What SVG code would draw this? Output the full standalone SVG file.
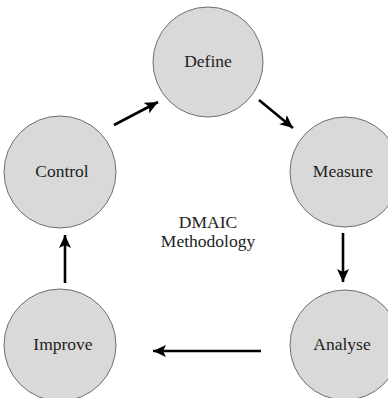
<svg xmlns="http://www.w3.org/2000/svg" width="388" height="398" viewBox="0 0 388 398">
  <style>
    .node circle { fill: #d9d9d9; stroke: #6e6e6e; stroke-width: 1; }
    text { font-family: "Liberation Serif", "Times New Roman", "DejaVu Serif", serif; font-size: 17.5px; fill: #222; text-anchor: middle; }
    .conn line { stroke: #000; stroke-width: 2.6; }
  </style>
  <defs>
    <marker id="arrow" markerUnits="userSpaceOnUse" markerWidth="14" markerHeight="12" refX="13" refY="6" orient="auto">
      <path d="M0,0 L13,6 L0,12 L3,6 Z" fill="#000"/>
    </marker>
  </defs>
  <rect width="388" height="398" fill="#fff"/>

  <g id="define" class="node">
    <circle cx="208" cy="62" r="55"/>
    <text x="208" y="67">Define</text>
  </g>
  <g id="measure" class="node">
    <circle cx="345" cy="172" r="55"/>
    <text x="343" y="177">Measure</text>
  </g>
  <g id="analyse" class="node">
    <circle cx="345" cy="345" r="55"/>
    <text x="342" y="350">Analyse</text>
  </g>
  <g id="improve" class="node">
    <circle cx="60" cy="345" r="56"/>
    <text x="63" y="350">Improve</text>
  </g>
  <g id="control" class="node">
    <circle cx="60" cy="172" r="56"/>
    <text x="62" y="177">Control</text>
  </g>

  <g id="title">
    <text x="208" y="228">DMAIC</text>
    <text x="208" y="247">Methodology</text>
  </g>

  <g id="connectors" class="conn">
    <line x1="114" y1="125" x2="158" y2="102" marker-end="url(#arrow)"/>
    <line x1="259" y1="100" x2="293" y2="128" marker-end="url(#arrow)"/>
    <line x1="343" y1="233" x2="343" y2="282" marker-end="url(#arrow)"/>
    <line x1="261" y1="351" x2="153" y2="351" marker-end="url(#arrow)"/>
    <line x1="65" y1="283" x2="65" y2="235" marker-end="url(#arrow)"/>
  </g>
</svg>
